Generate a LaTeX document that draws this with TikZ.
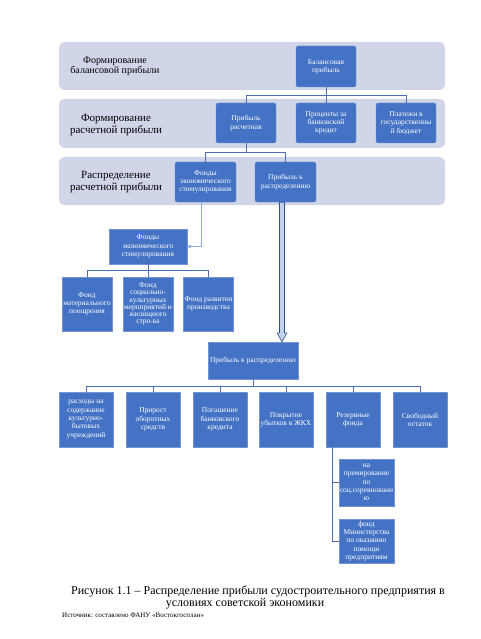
\documentclass[tikz,border=0pt]{standalone}
\usepackage{fontspec}
\setmainfont{Liberation Serif}
\usetikzlibrary{arrows.meta,calc}
\definecolor{boxblue}{HTML}{4472C4}
\definecolor{bandfill}{HTML}{D0D5E8}
\definecolor{linkblue}{HTML}{4A6FB5}
\definecolor{paleblue}{HTML}{8FAADC}
\definecolor{arrowfill}{HTML}{C5D0EA}
\definecolor{arrowline}{HTML}{2F528F}
\begin{document}
\begin{tikzpicture}
        [x=1pt, y=-1pt,
        blk/.style={rectangle, draw=boxblue!75!white, fill=boxblue, text=white, rounded corners=2pt, align=center, inner sep=1pt, font=\fontsize{7.5}{8.3}\selectfont},
        blksq/.style={blk, rounded corners=0pt},
        band/.style={fill=bandfill, rounded corners=6pt},
        lbl/.style={align=center, font=\fontsize{11}{12}\selectfont},
        link/.style={draw=linkblue, line width=0.7pt}]
        \useasboundingbox (0,0) rectangle (480,639);
        \fill[band] (59,42) rectangle (445,90);
        \fill[band] (59,99) rectangle (445,148);
        \fill[band] (59,157) rectangle (445,205);

        \node[lbl, font=\fontsize{10}{10}\selectfont] (L1) at (115,66) {Формирование\\балансовой прибыли};
        \node[lbl] (L2) at (116,125) {Формирование\\расчетной прибыли};
        \node[lbl] (L3) at (116,182) {Распределение\\расчетной прибыли};

        \node[blk, minimum width=60, minimum height=41] (bal) at (326,66.5) {Балансовая\\прибыль};
        \node[blk, minimum width=60, minimum height=40] (pras) at (246,123) {Прибыль\\расчетная};
        \node[blk, minimum width=60, minimum height=40] (proc) at (326,123) {Проценты за\\банковский\\кредит};
        \node[blk, minimum width=60, minimum height=40] (plat) at (406,123) {Платежи в\\государственны\\й бюджет};
        \node[blk, minimum width=61, minimum height=40] (fes) at (205.5,182) {Фонды\\экономического\\стимулирования};
        \node[blk, minimum width=61, minimum height=40] (prr) at (285.5,182) {Прибыль к\\распределению};

        \node[blksq, minimum width=78, minimum height=35] (fonds) at (148,246.5) {Фонды\\экономического\\стимулирования};
        \node[blksq, minimum width=50, minimum height=54] (fm) at (87,304) {Фонд\\материального\\поощрения};
        \node[blksq, minimum width=50, minimum height=54, font=\fontsize{7.5}{7.3}\selectfont] (fsk) at (148,304) {Фонд\\социально-\\культурных\\мероприятий и\\жилищного\\стро-ва};
        \node[blksq, minimum width=49, minimum height=54] (fr) at (208.5,304) {Фонд развития\\производства};

        \node[blksq, minimum width=90, minimum height=37] (pkr) at (253,360.5) {Прибыль к распределению};

        \node[blksq, minimum width=54, minimum height=55] (r1) at (86,419.5) {расходы на\\содержание\\культурно-\\бытовых\\учреждений};
        \node[blksq, minimum width=54, minimum height=55] (r2) at (153,419.5) {Прирост\\оборотных\\средств};
        \node[blksq, minimum width=54, minimum height=55] (r3) at (220,419.5) {Погашение\\банковского\\кредита};
        \node[blksq, minimum width=54, minimum height=55] (r4) at (286,419.5) {Покрытие\\убытков в ЖКХ};
        \node[blksq, minimum width=54, minimum height=55] (r5) at (353,419.5) {Резервные\\фонда};
        \node[blksq, minimum width=54, minimum height=55] (r6) at (420,419.5) {Свободный\\остаток};

        \node[blksq, minimum width=55, minimum height=47] (sub1) at (366.5,482.5) {на\\премирование\\по\\соц.соревновани\\ю};
        \node[blksq, minimum width=55, minimum height=44] (sub2) at (366.5,541) {фонд\\Министерства\\по оказанию\\помощи\\предпритиям};

        \coordinate (j1) at (326,95);
        \coordinate (j2) at (246,152);
        \coordinate (j3) at (148,270);
        \coordinate (j4) at (253,386);

        \draw[link] (bal) -- (j1);
        \draw[link] (j1) -| (pras);
        \draw[link] (j1) -| (plat);
        \draw[link] (j1) -- (proc);
        \draw[link] (pras) -- (j2);
        \draw[link] (j2) -| (fes);
        \draw[link] (j2) -| (prr);
        \draw[draw=paleblue, line width=0.7pt, -{Stealth[length=4pt,width=4pt]}] ([xshift=-4.5pt]fes.south) |- (fonds.east);
        \draw[link] (fonds) -- (j3);
        \draw[link] (j3) -| (fm);
        \draw[link] (j3) -- (fsk);
        \draw[link] (j3) -| (fr);
        \draw[link] (pkr) -- (j4);
        \foreach \r in {r1,r2,r3,r4,r5,r6}
            \draw[link] (j4) -| (\r);
        \draw[link] ([xshift=-21pt]r5.south) |- (sub1.west);
        \draw[link] ([xshift=-21pt]r5.south) |- (sub2.west);

        \coordinate (hs) at ($(prr.south)+(-3.5,0)$);
        \coordinate (he) at (hs |- pkr.north);
        \draw[draw=arrowline, fill=arrowfill, line width=0.6pt] ($(hs)+(-2.5,0)$) -- ($(he)+(-2.5,-9)$) -- ($(he)+(-5,-9)$) -- (he) -- ($(he)+(5,-9)$) -- ($(he)+(2.5,-9)$) -- ($(hs)+(2.5,0)$) -- cycle;

        \node[font=\fontsize{12}{13}\selectfont] (cap1) at (258,591) {Рисунок 1.1 – Распределение прибыли судостроительного предприятия в};
        \node[font=\fontsize{12}{13}\selectfont] (cap2) at (245,604) {условиях советской экономики};
        \node[anchor=west, font=\fontsize{7}{8}\selectfont, inner sep=0pt] (src) at (62,615) {Источник: составлено ФАНУ «Востокгосплан»};
    \end{tikzpicture}
\end{document}
